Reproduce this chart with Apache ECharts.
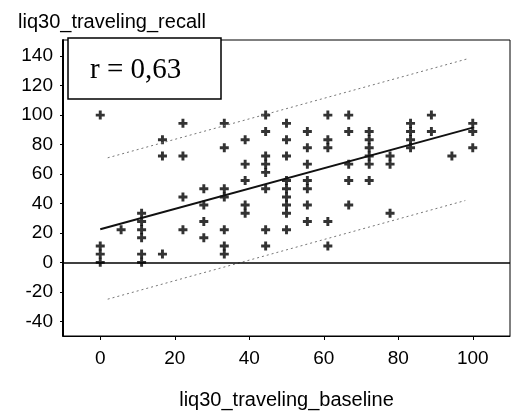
<!DOCTYPE html>
<html>
<head>
<meta charset="utf-8">
<script src="https://cdn.jsdelivr.net/npm/echarts@6/dist/echarts.min.js"></script>
<style>
  html, body { margin: 0; padding: 0; background: #fff; }
  #chart { width: 513px; height: 415px; }
</style>
</head>
<body>
<div id="chart"></div>
<script>
// scatter points (baseline, recall)
const baseline = [
  0, 0, 0, 0,
  5.6,
  11.1, 11.1, 11.1, 11.1, 11.1, 11.1,
  16.7, 16.7, 16.7,
  22.2, 22.2, 22.2, 22.2,
  27.8, 27.8, 27.8, 27.8,
  33.3, 33.3, 33.3, 33.3, 33.3, 33.3, 33.3,
  38.9, 38.9, 38.9, 38.9, 38.9,
  44.4, 44.4, 44.4, 44.4, 44.4, 44.4, 44.4, 44.4,
  50, 50, 50, 50, 50, 50, 50, 50, 50,
  55.6, 55.6, 55.6, 55.6, 55.6, 55.6, 55.6,
  61.1, 61.1, 61.1, 61.1, 61.1,
  66.7, 66.7, 66.7, 66.7, 66.7,
  72.2, 72.2, 72.2, 72.2, 72.2, 72.2,
  77.8, 77.8, 77.8,
  83.3, 83.3, 83.3, 83.3,
  88.9, 88.9,
  94.4,
  100, 100, 100
]
const recall = [
  100, 11.1, 5.6, 0,
  22.2,
  33.3, 27.8, 22.2, 16.7, 5.6, 0,
  83.3, 72.2, 5.6,
  94.4, 72.2, 44.4, 22.2,
  50, 38.9, 27.8, 16.7,
  94.4, 77.8, 50, 44.4, 22.2, 11.1, 5.6,
  83.3, 66.7, 55.6, 38.9, 33.3,
  100, 88.9, 72.2, 66.7, 61.1, 50, 22.2, 11.1,
  94.4, 83.3, 72.2, 55.6, 50, 44.4, 38.9, 33.3, 22.2,
  88.9, 77.8, 66.7, 55.6, 50, 38.9, 27.8,
  100, 83.3, 77.8, 27.8, 11.1,
  100, 88.9, 66.7, 55.6, 38.9,
  88.9, 83.3, 77.8, 72.2, 66.7, 55.6,
  72.2, 66.7, 33.3,
  94.4, 88.9, 83.3, 77.8,
  100, 88.9,
  72.2,
  94.4, 88.9, 77.8
]

// fit line and prediction band ends
const fitX = [0, 100]
const fitY = [22.5, 91.5]
const upperX = [2, 99]
const upperY = [71, 138.5]
const lowerX = [2, 98]
const lowerY = [-25, 42]

const xTicks = [0, 20, 40, 60, 80, 100]
const yTicks = [-40, -20, 0, 20, 40, 60, 80, 100, 120, 140]

const pair = (xs, ys) => xs.map((x, i) => [x, ys[i]])

// bold "+" marker like the original scan
const plusPath = 'path://M-1.3,-4H1.3V-1.3H4V1.3H1.3V4H-1.3V1.3H-4V-1.3H-1.3Z'
const labelFont = { color: '#000', fontFamily: 'Liberation Sans, Arial, sans-serif', fontSize: 19 }

const myChart = echarts.init(document.getElementById('chart'))

const option = {
  animation: false,
  backgroundColor: '#fff',
  grid: {
    left: 63, right: 3, top: 40, bottom: 78,
    show: true,
    borderColor: '#000',
    borderWidth: 1
  },
  title: {
    text: 'liq30_traveling_recall',
    left: 13, top: 7,
    textStyle: { color: '#000', fontFamily: 'Liberation Sans, Arial, sans-serif', fontSize: 20, fontWeight: 'normal' }
  },
  xAxis: {
    type: 'value',
    min: -10, max: 110,
    splitLine: { show: false },
    axisLine: { show: true, onZero: false, lineStyle: { color: '#000', width: 1 } },
    axisTick: { show: true, length: 4, customValues: xTicks, lineStyle: { color: '#000' } },
    axisLabel: Object.assign({ margin: 13, customValues: xTicks }, labelFont),
    name: 'liq30_traveling_baseline',
    nameLocation: 'middle',
    nameGap: 54,
    nameTextStyle: { color: '#000', fontFamily: 'Liberation Sans, Arial, sans-serif', fontSize: 20 }
  },
  yAxis: {
    type: 'value',
    min: -50, max: 151,
    splitLine: { show: false },
    axisLine: { show: true, onZero: false, lineStyle: { color: '#000', width: 2 } },
    axisTick: { show: true, length: 3, customValues: yTicks, lineStyle: { color: '#000' } },
    axisLabel: Object.assign({ margin: 10, customValues: yTicks, padding: [0, 0, 14, 0] }, labelFont)
  },
  graphic: [
    {
      type: 'rect',
      shape: { x: 68, y: 38, width: 153, height: 61 },
      style: { fill: '#fff', stroke: '#000', lineWidth: 1.5 },
      z: 100
    },
    {
      type: 'text',
      x: 90, y: 70,
      style: {
        text: 'r = 0,63',
        fill: '#000',
        font: '29px "Liberation Serif", "Times New Roman", serif',
        textVerticalAlign: 'middle'
      },
      z: 101
    }
  ],
  series: [
    {
      type: 'scatter',
      data: pair(baseline, recall),
      symbol: plusPath,
      symbolSize: 9,
      itemStyle: { color: '#000' },
      markLine: {
        silent: true,
        symbol: ['none', 'none'],
        label: { show: false },
        lineStyle: { color: '#000', width: 1.5, type: 'solid' },
        data: [{ yAxis: 0 }]
      }
    },
    {
      type: 'line',
      data: pair(fitX, fitY),
      showSymbol: false,
      lineStyle: { color: '#111', width: 2 }
    },
    {
      type: 'line',
      data: pair(upperX, upperY),
      showSymbol: false,
      lineStyle: { color: '#777', width: 1, type: [2, 3] }
    },
    {
      type: 'line',
      data: pair(lowerX, lowerY),
      showSymbol: false,
      lineStyle: { color: '#777', width: 1, type: [2, 3] }
    }
  ]
}

myChart.setOption(option)
</script>
</body>
</html>
